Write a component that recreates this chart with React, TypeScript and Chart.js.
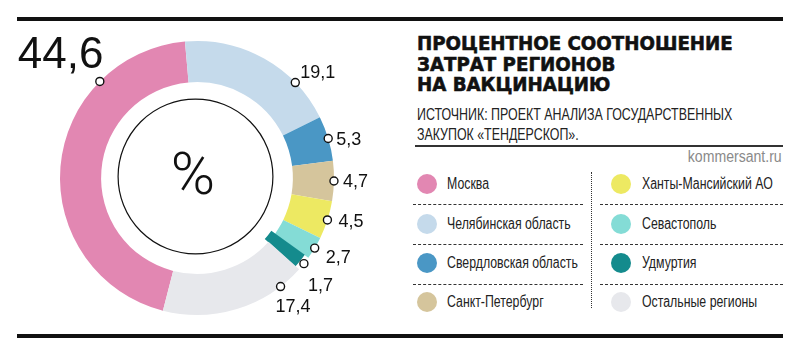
import React, { useEffect, useRef } from "react";
import { Chart, registerables } from "chart.js";

Chart.register(...registerables);

// ---------- data ----------
const categories = [
  "Москва",
  "Челябинская область",
  "Свердловская область",
  "Санкт-Петербург",
  "Ханты-Мансийский АО",
  "Севастополь",
  "Удмуртия",
  "Остальные регионы",
];
const values = [44.6, 19.1, 5.3, 4.7, 4.5, 2.7, 1.7, 17.4];
const valueLabels = ["44,6", "19,1", "5,3", "4,7", "4,5", "2,7", "1,7", "17,4"];
const colors = [
  "#E287B2",
  "#C5DAEB",
  "#4A97C5",
  "#D5C59C",
  "#EDE962",
  "#84DCD6",
  "#148B8D",
  "#E7E8EC",
];
const titleLines = ["ПРОЦЕНТНОЕ СООТНОШЕНИЕ", "ЗАТРАТ РЕГИОНОВ", "НА ВАКЦИНАЦИЮ"];
const sourceLines = ["ИСТОЧНИК: ПРОЕКТ АНАЛИЗА ГОСУДАРСТВЕННЫХ", "ЗАКУПОК «ТЕНДЕРСКОП»."];
const credit = "kommersant.ru";
const centerSymbol = "%";

// ---------- style ----------
const sliceOffsets = [0, 0, 0, 0, 0, 0, -10, 0];
const anchorFractions = [0.75, 0.74, 0.5, 0.5, 0.5, 0.5, 0.5, 0.17];
const labelDx = [-82, 5, 8, 9, 11, 11, 4, -5];
const labelDy = [-13, -5, 6, 6, 7, 15, 27, 25];
const labelSizes = [44, 18, 18, 18, 18, 18, 18, 18];

const labelPlugin = {
  id: "donutLabels",
  afterDatasetsDraw(chart: any) {
    const ctx = chart.ctx as CanvasRenderingContext2D;
    const meta = chart.getDatasetMeta(0);
    const arcs = meta.data as any[];
    if (!arcs.length) return;
    const cx = arcs[0].x;
    const cy = arcs[0].y;
    const R = arcs[0].outerRadius;
    ctx.save();
    // thin inner circle
    ctx.beginPath();
    ctx.arc(cx - 1.5, cy - 1.5, R * 0.565, 0, Math.PI * 2);
    ctx.lineWidth = 1.2;
    ctx.strokeStyle = "#111";
    ctx.stroke();
    // percent symbol
    ctx.fillStyle = "#111";
    ctx.font = "300 60px Roboto, 'Liberation Sans', sans-serif";
    ctx.textAlign = "center";
    ctx.textBaseline = "middle";
    ctx.fillText(centerSymbol, cx - 4, cy + 1);
    // markers + labels
    arcs.forEach((arc: any, i: number) => {
      const ang = arc.startAngle + (arc.endAngle - arc.startAngle) * anchorFractions[i];
      const px = cx + Math.cos(ang) * R;
      const py = cy + Math.sin(ang) * R;
      ctx.beginPath();
      ctx.arc(px, py, 4, 0, Math.PI * 2);
      ctx.fillStyle = "#fff";
      ctx.fill();
      ctx.lineWidth = 1.4;
      ctx.strokeStyle = "#111";
      ctx.stroke();
      ctx.fillStyle = "#111";
      ctx.font = `${labelSizes[i]}px 'Liberation Sans', Arial, sans-serif`;
      ctx.textAlign = "left";
      ctx.textBaseline = "alphabetic";
      ctx.fillText(valueLabels[i], px + labelDx[i], py + labelDy[i]);
    });
    ctx.restore();
  },
};

function Donut() {
  const ref = useRef<HTMLCanvasElement | null>(null);
  useEffect(() => {
    if (!ref.current) return;
    const chart = new Chart(ref.current, {
      type: "doughnut",
      data: {
        labels: categories,
        datasets: [
          {
            data: values,
            backgroundColor: colors,
            borderWidth: 0,
            hoverOffset: 0,
            offset: sliceOffsets,
          } as any,
        ],
      },
      options: {
        responsive: false,
        animation: false,
        cutout: "70%",
        rotation: -165.6,
        layout: { padding: { left: 60, right: 66, top: 41, bottom: 40 } },
        plugins: { legend: { display: false }, tooltip: { enabled: false } },
        events: [],
      } as any,
      plugins: [labelPlugin],
    });
    return () => chart.destroy();
  }, []);
  return (
    <canvas
      ref={ref}
      width={400}
      height={355}
      style={{ position: "absolute", left: 0, top: 0, width: 400, height: 355 }}
    />
  );
}

const rowCenters = [184, 223.5, 263, 302];
const colCircleX = [427, 621];
const colTextX = [447, 642];

export default function App() {
  useEffect(() => {
    document.body.style.margin = "0";
  }, []);
  const cond = "'Liberation Sans', Arial, sans-serif";
  return (
    <div style={{ position: "relative", width: 800, height: 355, background: "#fff", overflow: "hidden" }}>
      <div style={{ position: "absolute", left: 17, top: 17, width: 766, height: 4, background: "#111" }} />
      <div style={{ position: "absolute", left: 17, top: 334, width: 766, height: 4, background: "#111" }} />
      <Donut />
      {/* title */}
      <div
        style={{
          position: "absolute",
          left: 417,
          top: 33,
          fontFamily: "'DejaVu Sans', sans-serif",
          fontWeight: 900,
          fontSize: 20,
          lineHeight: "20.5px",
          color: "#111",
          whiteSpace: "nowrap",
          WebkitTextStroke: "0.6px #111",
          transform: "scaleX(0.91)",
          transformOrigin: "left top",
        }}
      >
        {titleLines.map((t) => (
          <div key={t}>{t}</div>
        ))}
      </div>
      {/* source */}
      <div
        style={{
          position: "absolute",
          left: 417,
          top: 104.5,
          fontFamily: cond,
          fontSize: 16,
          lineHeight: "20px",
          color: "#222",
          whiteSpace: "nowrap",
          transform: "scaleX(0.775)",
          transformOrigin: "left top",
        }}
      >
        {sourceLines.map((t) => (
          <div key={t}>{t}</div>
        ))}
      </div>
      <div style={{ position: "absolute", left: 415, top: 145, width: 368, height: 1.5, background: "#333" }} />
      <div
        style={{
          position: "absolute",
          right: 800 - 782,
          top: 148,
          fontFamily: cond,
          fontSize: 16,
          color: "#8a8a8a",
          whiteSpace: "nowrap",
          transform: "scaleX(0.88)",
          transformOrigin: "right top",
        }}
      >
        {credit}
      </div>
      {/* legend */}
      {categories.map((c, i) => {
        const col = Math.floor(i / 4);
        const row = i % 4;
        return (
          <React.Fragment key={c}>
            <div
              style={{
                position: "absolute",
                left: colCircleX[col] - 10,
                top: rowCenters[row] - 10,
                width: 20,
                height: 20,
                borderRadius: "50%",
                background: colors[i],
              }}
            />
            <div
              style={{
                position: "absolute",
                left: colTextX[col],
                top: rowCenters[row] - 10,
                height: 20,
                display: "flex",
                alignItems: "center",
                fontFamily: cond,
                fontSize: 16,
                color: "#222",
                whiteSpace: "nowrap",
                transform: "scaleX(0.77)",
                transformOrigin: "left center",
              }}
            >
              {c}
            </div>
          </React.Fragment>
        );
      })}
      {[204, 244, 284].map((y) => (
        <React.Fragment key={y}>
          <div style={{ position: "absolute", left: 413, top: y, width: 170, borderTop: "1px dashed #333" }} />
          <div style={{ position: "absolute", left: 600, top: y, width: 183, borderTop: "1px dashed #333" }} />
        </React.Fragment>
      ))}
      <div style={{ position: "absolute", left: 591, top: 172, height: 136, borderLeft: "1.5px dotted #333" }} />
    </div>
  );
}
